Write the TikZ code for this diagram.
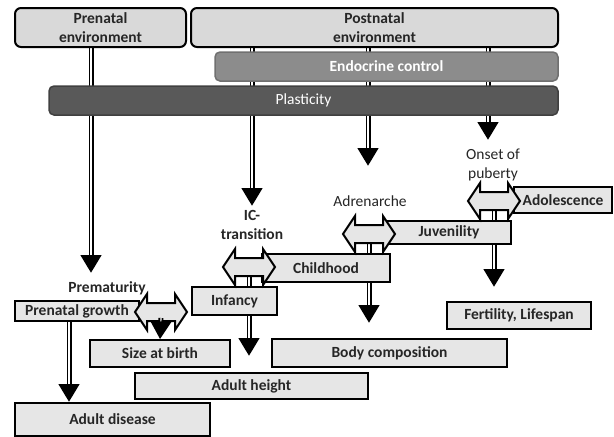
\documentclass[tikz,border=0pt]{standalone}
\usepackage{fontspec}
\setmainfont{Carlito}
\usetikzlibrary{arrows.meta,backgrounds}

\definecolor{envfill}{HTML}{D9D9D9}
\definecolor{boxfill}{HTML}{E6E6E6}
\definecolor{endofill}{HTML}{8C8C8C}
\definecolor{endoline}{HTML}{707070}
\definecolor{plastfill}{HTML}{595959}
\definecolor{plastline}{HTML}{404040}

\newcommand\basefont{\fontsize{15.5}{19}\selectfont}

\tikzset{
    dbl/.pic={
        \draw[dblline] (-26,0) -- (-14,-18) -- (-14,-9) -- (14,-9) -- (14,-18)
            -- (26,0) -- (14,18) -- (14,9) -- (-14,9) -- (-14,18) -- cycle;
    }
}

\begin{document}
\begin{tikzpicture}[x=1pt, y=-1pt,
    font=\basefont\bfseries, text=black!85,
    env/.style={draw, line width=2pt, rounded corners=6pt, fill=envfill, align=center, inner sep=0pt},
    bar/.style={rounded corners=5pt, line width=1.5pt, inner sep=0pt, text=white},
    stage/.style={draw, line width=1.5pt, fill=boxfill, inner sep=0pt},
    tag/.style={align=center, inner sep=0pt},
    plain/.style={font=\basefont},
    shaft/.style={line width=5pt, -{Triangle[width=20pt,length=18pt]},
        postaction={draw=white, line width=1.2pt, -, shorten >=18pt}},
    dblline/.style={draw, line width=2pt, fill=boxfill, line join=miter},
    stub/.style={draw, line width=1.5pt, fill=white}]
    \useasboundingbox (0,0) rectangle (614,437);

    % environment, control, plasticity
    \node[env, minimum width=171pt, minimum height=39pt] (prenv) at (100.5,27.5) {Prenatal\\environment};
    \node[env, minimum width=367pt, minimum height=39pt] (postenv) at (374.5,27.5) {Postnatal\\environment};
    \node[bar, draw=endoline, fill=endofill, minimum width=343pt, minimum height=29pt] (endo) at (386.5,66.5) {Endocrine control};
    \node[bar, plain, draw=plastline, fill=plastfill, minimum width=509pt, minimum height=29pt] (plast) at (303.5,100.5) {Plasticity};

    % life stages
    \node[stage, minimum width=98pt, minimum height=26pt] (adol) at (563,200) {Adolescence};
    \node[stage, minimum width=124pt, minimum height=23pt] (juv) at (449,232.5) {Juvenility};
    \node[stage, minimum width=128pt, minimum height=28pt] (child) at (326,268) {Childhood};
    \node[stage, minimum width=85pt, minimum height=28pt] (inf) at (234.5,301) {Infancy};
    \node[stage, minimum width=124pt, minimum height=20pt] (pgrowth) at (77,311) {Prenatal growth};

    % outcomes
    \node[stage, minimum width=144pt, minimum height=27pt] (fert) at (519,315.5) {Fertility, Lifespan};
    \node[stage, minimum width=235pt, minimum height=28pt] (body) at (389.5,353) {Body composition};
    \node[stage, minimum width=140pt, minimum height=27pt] (size) at (160,353.5) {Size at birth};
    \node[stage, minimum width=233pt, minimum height=26pt] (height) at (251.5,386) {Adult height};
    \node[stage, minimum width=195pt, minimum height=33pt] (disease) at (112.5,419.5) {Adult disease};

    % transitions
    \node[tag] (ictag) at (252,225) {IC-\\transition};
    \node[tag] (premtag) at (107,288) {Prematurity};
    \node[tag, plain] (adtag) at (370,201) {Adrenarche};
    \node[tag, plain] (ontag) at (493,165) {Onset of\\puberty};

    \coordinate (prem) at (161,312);
    \coordinate (ic) at (249,267);
    \coordinate (adren) at (369,234);
    \coordinate (onset) at (494,201);

    \coordinate (pretip) at (91,273);
    \coordinate (ictip) at (252,206);
    \coordinate (adtip) at (368,166);
    \coordinate (ontip) at (488,140);
    \coordinate (infdrop) at (249,356);
    \coordinate (childdrop) at (369,323);
    \coordinate (juvdrop) at (494,287);
    \coordinate (pgdrop) at (69,402);

    \begin{pgfonlayer}{background}
        \draw[stub] (ic) ++(-14,0) rectangle ++(28,20);
        \draw[stub] (adren) ++(-14,0) rectangle ++(28,20);
        \draw[stub] (onset) ++(-14,0) rectangle ++(28,20);
        \draw[shaft] (prenv.south -| pretip) -- (pretip);
        \draw[shaft] (postenv.south -| ictip) -- (ictip);
        \draw[shaft] (postenv.south -| adtip) -- (adtip);
        \draw[shaft] (postenv.south -| ontip) -- (ontip);
        \draw[shaft] (ic) -- (infdrop);
        \draw[shaft] (adren) -- (childdrop);
        \draw[shaft] (onset) -- (juvdrop);
        \draw[shaft] (pgrowth.south -| pgdrop) -- (pgdrop);
    \end{pgfonlayer}

    \pic at (prem) {dbl};
    \pic at (ic) {dbl};
    \pic at (adren) {dbl};
    \pic at (onset) {dbl};
    \draw[shaft] ([yshift=-6pt]prem) -- (size.north);
\end{tikzpicture}
\end{document}
